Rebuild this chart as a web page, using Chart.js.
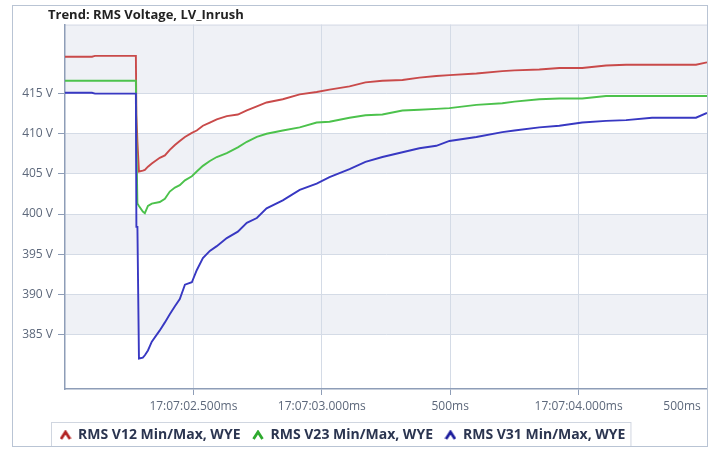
<!DOCTYPE html>
<html>
<head>
<meta charset="utf-8">
<script src="https://cdn.jsdelivr.net/npm/chart.js@4.4.1/dist/chart.umd.min.js"></script>
<style>
  html, body { margin: 0; padding: 0; background: #fff; }
  #frame { position: absolute; left: 12px; top: 5px; width: 694px; height: 440px; border: 1px solid #b9c4d4; }
</style>
</head>
<body>
<div id="frame"><canvas id="trendChart" width="694" height="440"></canvas></div>
<script>
"use strict";

// ms after 17:07:02.000
const timesMs = [0, 105, 117, 276, 278, 282, 288, 303, 311, 323,
  338, 369, 389, 408, 428, 447, 467, 494, 513, 537,
  564, 591, 630, 673, 708, 747, 785, 848, 914, 980,
  1030, 1108, 1170, 1236, 1314, 1380, 1446, 1497, 1602, 1703,
  1750, 1847, 1925, 2014, 2107, 2185, 2286, 2457, 2500];

const v12Values = [419.6, 419.6, 419.7, 419.7, 412.4, 409.0, 405.3, 405.4, 405.5, 405.9,
  406.3, 407.0, 407.3, 408.0, 408.6, 409.1, 409.6, 410.1, 410.4, 411.0,
  411.4, 411.8, 412.2, 412.4, 412.9, 413.4, 413.9, 414.3, 414.9, 415.2,
  415.5, 415.9, 416.4, 416.6, 416.7, 417.0, 417.2, 417.3, 417.5, 417.8,
  417.9, 418.0, 418.2, 418.2, 418.5, 418.6, 418.6, 418.6, 418.9];

const v23Values = [416.6, 416.6, 416.6, 416.6, 409.0, 401.3, 401.0, 400.3, 400.1, 401.0,
  401.3, 401.5, 401.9, 402.8, 403.3, 403.6, 404.2, 404.7, 405.3, 406.0,
  406.6, 407.1, 407.6, 408.3, 409.0, 409.6, 410.0, 410.4, 410.8, 411.4,
  411.5, 412.0, 412.3, 412.4, 412.9, 413.0, 413.1, 413.2, 413.6, 413.8,
  414.0, 414.3, 414.4, 414.4, 414.7, 414.7, 414.7, 414.7, 414.7];

const v31Values = [415.1, 415.1, 415.0, 415.0, 398.4, 398.4, 382.0, 382.1, 382.4, 383.0,
  384.1, 385.5, 386.5, 387.5, 388.5, 389.4, 391.2, 391.5, 393.0, 394.5,
  395.4, 396.0, 397.0, 397.8, 398.9, 399.5, 400.7, 401.7, 403.0, 403.8,
  404.6, 405.6, 406.5, 407.1, 407.7, 408.2, 408.5, 409.1, 409.6, 410.2,
  410.4, 410.8, 411.0, 411.4, 411.6, 411.7, 412.0, 412.0, 412.6];

const seriesNames = ["RMS V12 Min/Max, WYE", "RMS V23 Min/Max, WYE", "RMS V31 Min/Max, WYE"];
const yTicks = [385, 390, 395, 400, 405, 410, 415];
const xTicks = [500, 1000, 1500, 2000, 2500];
const xTickLabels = ["17:07:02.500ms", "17:07:03.000ms", "500ms", "17:07:04.000ms", "500ms"];

const lineColors = ["#c94a4a", "#4cc24c", "#3838c2"];
const markColors = ["#b22222", "#2eaa2e", "#1c1c9c"];
const axisColor = "#8e9db7";
const gridColor = "#d4dbe6";
const labelColor = "#5d687b";

// little "^" legend marker
function chevron(color) {
  const c = document.createElement("canvas");
  c.width = 12;
  c.height = 10;
  const g = c.getContext("2d");
  g.strokeStyle = color;
  g.lineWidth = 2.8;
  g.beginPath();
  g.moveTo(1.5, 9);
  g.lineTo(6, 2);
  g.lineTo(10.5, 9);
  g.stroke();
  return c;
}

function points(values) {
  return values.map((v, i) => ({ x: timesMs[i], y: v }));
}

// alternating grey bands, top border, legend frame
const framePlugin = {
  id: "frame",
  afterLayout(chart) {
    // let the y labels use the space left of the narrow axis box
    chart.scales.y.left = 0;
  },
  beforeDraw(chart) {
    const { ctx, chartArea, scales } = chart;
    const y = scales.y;
    const edges = yTicks.concat([y.max]);
    ctx.save();
    ctx.fillStyle = "#eff1f6";
    for (let i = edges.length - 1, grey = true; i > 0; i--, grey = !grey) {
      if (!grey) continue;
      const top = y.getPixelForValue(edges[i]);
      const bottom = y.getPixelForValue(edges[i - 1]);
      ctx.fillRect(chartArea.left, top, chartArea.right - chartArea.left, bottom - top);
    }
    ctx.strokeStyle = gridColor;
    ctx.lineWidth = 1;
    ctx.beginPath();
    ctx.moveTo(chartArea.left, chartArea.top + 0.5);
    ctx.lineTo(chartArea.right, chartArea.top + 0.5);
    ctx.stroke();
    ctx.restore();
  },
  afterDraw(chart) {
    const boxes = chart.legend.legendHitBoxes;
    if (!boxes || !boxes.length) return;
    const first = boxes[0];
    const last = boxes[boxes.length - 1];
    const ctx = chart.ctx;
    ctx.save();
    ctx.strokeStyle = "#d0d6e0";
    ctx.lineWidth = 1;
    ctx.strokeRect(first.left - 8.5, first.top - 5.5, last.left + last.width - first.left + 14, first.height + 11);
    ctx.restore();
  }
};

const tickFont = { family: "Open Sans", size: 12 };

new Chart(document.getElementById("trendChart"), {
  type: "line",
  data: {
    datasets: [v12Values, v23Values, v31Values].map((vals, i) => ({
      label: seriesNames[i],
      data: points(vals),
      borderColor: lineColors[i],
      backgroundColor: lineColors[i],
      borderWidth: 1.9,
      pointRadius: 0,
      pointStyle: chevron(markColors[i]),
      tension: 0,
      order: 3 - i,
    })),
  },
  options: {
    responsive: false,
    animation: false,
    events: [],
    layout: { padding: { left: 35, right: 0, top: 0, bottom: -6 } },
    scales: {
      x: {
        type: "linear",
        min: 0,
        max: 2500,
        afterBuildTicks: (s) => { s.ticks = xTicks.map((v) => ({ value: v })); },
        afterFit: (s) => { s.paddingLeft = 0; s.paddingRight = 0; s.height = 27; },
        ticks: {
          autoSkip: false,
          maxRotation: 0,
          padding: 4,
          font: tickFont,
          color: labelColor,
          callback: (v) => {
            const i = xTicks.indexOf(v);
            return i === xTicks.length - 1 ? xTickLabels[i] + "                " : xTickLabels[i];
          },
        },
        grid: { color: gridColor, tickColor: axisColor, tickLength: 6 },
        border: { color: axisColor, width: 1.5 },
      },
      y: {
        min: 378.2,
        max: 423.6,
        afterBuildTicks: (s) => { s.ticks = yTicks.map((v) => ({ value: v })); },
        afterFit: (s) => { s.width = 17; s.paddingTop = 0; s.paddingBottom = 0; },
        ticks: {
          padding: 5,
          font: tickFont,
          color: labelColor,
          callback: (v) => v + " V",
        },
        grid: { color: gridColor, tickColor: axisColor, tickLength: 7 },
        border: { color: axisColor, width: 1.5 },
      },
    },
    plugins: {
      title: {
        display: true,
        text: "Trend: RMS Voltage, LV_Inrush",
        align: "start",
        color: "#222222",
        font: { family: "Open Sans", size: 13, weight: "bold" },
        padding: { top: 1, bottom: 2 },
      },
      legend: {
        position: "bottom",
        align: "start",
        labels: {
          usePointStyle: true,
          pointStyleWidth: 11,
          padding: 12,
          color: "#2b3550",
          font: { family: "Open Sans", size: 14, weight: "bold" },
          sort: (a, b) => a.datasetIndex - b.datasetIndex,
        },
      },
      tooltip: { enabled: false },
    },
  },
  plugins: [framePlugin],
});
</script>
</body>
</html>
